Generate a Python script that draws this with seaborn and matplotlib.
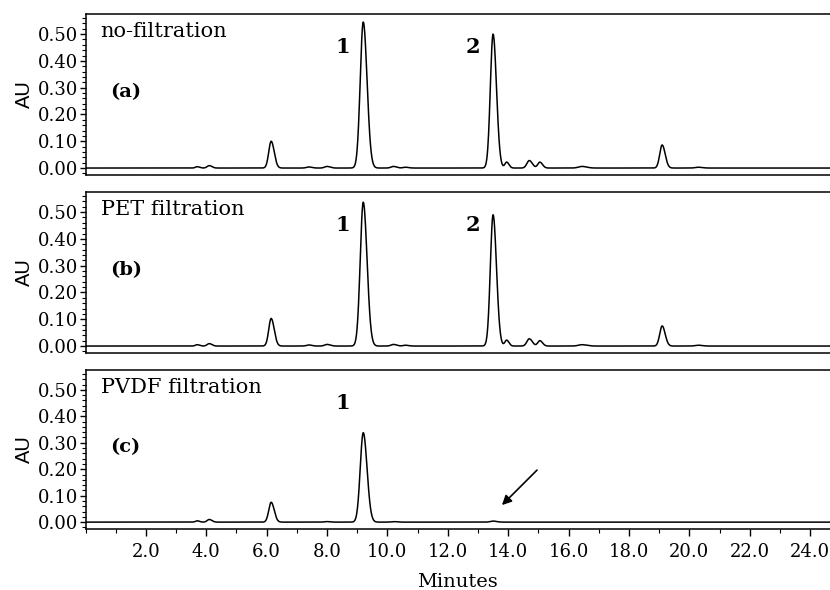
import matplotlib as mpl
import matplotlib.pyplot as plt
from matplotlib.ticker import MultipleLocator, FormatStrFormatter
import seaborn as sns
import pandas as pd
import numpy as np

sns.set_style("ticks")
mpl.rcParams['font.family'] = ['DejaVu Serif', 'Liberation Serif']
mpl.rcParams['text.color'] = 'black'
mpl.rcParams['axes.labelcolor'] = 'black'
mpl.rcParams['xtick.color'] = 'black'
mpl.rcParams['ytick.color'] = 'black'
mpl.rcParams['axes.edgecolor'] = 'black'

# peak tables: retention time (min), height (AU), width (sigma, min)
peak_times_a = [3.7, 4.1, 6.15, 7.4, 8.0, 9.2, 10.2, 10.6, 13.5, 13.95, 14.7, 15.05, 16.45, 19.1, 20.3]
peak_heights_a = [0.005, 0.009, 0.100, 0.004, 0.006, 0.545, 0.006, 0.003, 0.500, 0.022, 0.028, 0.022, 0.006, 0.086, 0.003]
peak_widths_a = [0.06, 0.07, 0.08, 0.08, 0.08, 0.10, 0.08, 0.08, 0.09, 0.06, 0.08, 0.07, 0.12, 0.08, 0.1]

peak_times_b = [3.7, 4.1, 6.15, 7.4, 8.0, 9.2, 10.2, 10.6, 13.5, 13.95, 14.7, 15.05, 16.45, 19.1, 20.3]
peak_heights_b = [0.005, 0.009, 0.103, 0.004, 0.006, 0.537, 0.006, 0.003, 0.490, 0.022, 0.027, 0.020, 0.005, 0.075, 0.003]
peak_widths_b = peak_widths_a

peak_times_c = [3.7, 4.1, 6.15, 8.0, 9.2, 10.2, 13.5]
peak_heights_c = [0.005, 0.010, 0.075, 0.002, 0.338, 0.002, 0.004]
peak_widths_c = [0.06, 0.07, 0.08, 0.08, 0.10, 0.08, 0.09]

panel_names = ['no-filtration', 'PET filtration', 'PVDF filtration']
panel_tags = ['(a)', '(b)', '(c)']
peak_labels = [[('1', 9.2), ('2', 13.5)], [('1', 9.2), ('2', 13.5)], [('1', 9.2)]]

x_ticks = [2.0, 4.0, 6.0, 8.0, 10.0, 12.0, 14.0, 16.0, 18.0, 20.0, 22.0, 24.0]

minutes = np.linspace(0, 24.7, 3000)


def trace(times, heights, widths):
  sig = np.zeros_like(minutes)
  for t, h, w in zip(times, heights, widths):
    # slight tailing on the right side of each peak
    ww = np.where(minutes > t, w * 1.25, w)
    sig += h * np.exp(-0.5 * ((minutes - t) / ww) ** 2)
  return sig


panels = [trace(peak_times_a, peak_heights_a, peak_widths_a),
          trace(peak_times_b, peak_heights_b, peak_widths_b),
          trace(peak_times_c, peak_heights_c, peak_widths_c)]

fig = plt.figure(figsize=(8.3, 5.9), dpi=100)
# pixel boxes (top, bottom) of each panel in the 590 px high figure
boxes = [(14, 175), (192, 353), (370, 529)]
left = 85.5 / 830

for i, (top, bottom) in enumerate(boxes):
  ax = fig.add_axes([left, 1 - bottom / 590, 1 - left, (bottom - top) / 590])
  df = pd.DataFrame({'Minutes': minutes, 'AU': panels[i]})
  sns.lineplot(data=df, x='Minutes', y='AU', ax=ax, color='black', linewidth=1.1)

  ax.set_xlim(0, 24.66)
  ax.set_ylim(-0.026, 0.575)
  ax.yaxis.set_major_locator(MultipleLocator(0.1))
  ax.yaxis.set_minor_locator(MultipleLocator(0.02))
  ax.yaxis.set_major_formatter(FormatStrFormatter('%.2f'))
  ax.set_xticks(x_ticks)
  ax.xaxis.set_minor_locator(MultipleLocator(1.0))
  ax.xaxis.set_major_formatter(FormatStrFormatter('%.1f'))
  ax.tick_params(axis='both', which='major', labelsize=13, width=1)
  ax.tick_params(axis='y', which='major', length=4, pad=1)
  ax.tick_params(axis='x', which='major', length=5, pad=5)
  ax.tick_params(axis='both', which='minor', length=3, width=0.8)
  ax.spines['right'].set_visible(False)
  for s in ['top', 'left', 'bottom']:
    ax.spines[s].set_linewidth(1.1)

  ax.set_ylabel('AU', family='Liberation Sans', fontsize=14.5, labelpad=3)

  if i < 2:
    ax.set_xlabel('')
    ax.tick_params(axis='x', which='both', bottom=False, labelbottom=False)
  else:
    ax.set_xlabel('Minutes', fontsize=14, labelpad=9)

  ax.text(0.5, 0.51, panel_names[i], fontsize=15, va='center', ha='left')
  ax.text(0.82, 0.285, panel_tags[i], fontsize=14, fontweight='bold', va='center', ha='left')
  for lab, t in peak_labels[i]:
    ax.text(t - 0.68, 0.45, lab, fontsize=15, fontweight='bold', va='center', ha='center')

  if i == 2:
    ax.annotate('', xy=(13.73, 0.057), xytext=(15.02, 0.204),
                arrowprops=dict(arrowstyle='-|>', color='black', lw=1.2, mutation_scale=14))

plt.savefig('out.png', dpi=100)
